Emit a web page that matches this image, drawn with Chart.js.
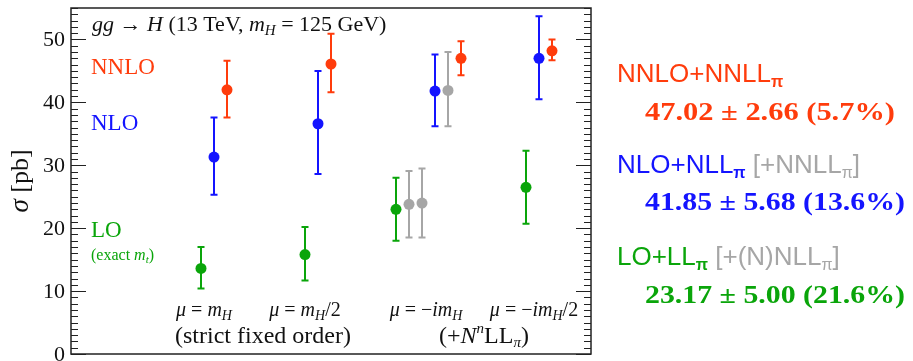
<!DOCTYPE html>
<html>
<head>
<meta charset="utf-8">
<script src="https://cdn.jsdelivr.net/npm/chart.js@4"></script>
<style>
  body { margin: 0; background: #fff; }
  #c { display: block; }
</style>
</head>
<body>
<canvas id="c" width="913" height="361"></canvas>
<script>
// positions along the x axis (one unit = one marker slot)
var loX = [10, 18, 25, 35];
var nloX = [11, 19, 28, 36];
var nnloX = [12, 20, 30, 37];
var grayX = [26, 27, 29];

// cross sections in pb: central value, upper and lower edge of the band
var loVal = [13.6, 15.8, 23.0, 26.5];
var loHi = [17.0, 20.2, 28.0, 32.3];
var loLo = [10.4, 11.7, 18.0, 20.7];

var nloVal = [31.3, 36.6, 41.8, 47.0];
var nloHi = [37.6, 45.0, 47.6, 53.7];
var nloLo = [25.3, 28.6, 36.2, 40.5];

var nnloVal = [42.0, 46.1, 47.0, 48.2];
var nnloHi = [46.6, 50.9, 49.7, 50.0];
var nnloLo = [37.6, 41.6, 44.3, 46.7];

var grayVal = [23.8, 24.0, 41.9];
var grayHi = [29.1, 29.5, 48.0];
var grayLo = [18.5, 18.5, 36.2];

var yTicks = [0, 10, 20, 30, 40, 50];

var RED = "#ff3c0c";
var BLUE = "#1414ff";
var GREEN = "#0aa50a";
var GRAY = "#a6a6a6";

function points(xs, ys) {
    return xs.map(function (x, i) { return {x: x, y: ys[i]}; });
}

function makeSet(xs, ys, hi, lo, color) {
    return {
        data: points(xs, ys),
        hi: hi,
        lo: lo,
        showLine: false,
        backgroundColor: color,
        borderColor: color,
        pointRadius: 5.5,
        pointBorderWidth: 0
    };
}

// draws a row of text pieces: [text, font, color, dy]
function drawRuns(ctx, x, y, parts, align) {
    var total = 0;
    parts.forEach(function (p) { ctx.font = p[1]; total += ctx.measureText(p[0]).width; });
    if (align === "center") x -= total / 2;
    parts.forEach(function (p) {
        ctx.font = p[1];
        ctx.fillStyle = p[2];
        ctx.fillText(p[0], x, y + (p[3] || 0));
        x += ctx.measureText(p[0]).width;
    });
}

function drawFit(ctx, text, x, y, width, font, color) {
    ctx.save();
    ctx.font = font;
    ctx.fillStyle = color;
    var w = ctx.measureText(text).width;
    ctx.translate(x, y);
    ctx.scale(width / w, 1);
    ctx.fillText(text, 0, 0);
    ctx.restore();
}

var errorBars = {
    id: "errorBars",
    beforeDatasetsDraw: function (chart) {
        var ctx = chart.ctx;
        var yScale = chart.scales.y;
        chart.data.datasets.forEach(function (ds, i) {
            var meta = chart.getDatasetMeta(i);
            ctx.save();
            ctx.strokeStyle = ds.borderColor;
            ctx.lineWidth = 2;
            meta.data.forEach(function (pt, j) {
                var yh = yScale.getPixelForValue(ds.hi[j]);
                var yl = yScale.getPixelForValue(ds.lo[j]);
                ctx.beginPath();
                ctx.moveTo(pt.x, yh);
                ctx.lineTo(pt.x, yl);
                ctx.moveTo(pt.x - 3.5, yh);
                ctx.lineTo(pt.x + 3.5, yh);
                ctx.moveTo(pt.x - 3.5, yl);
                ctx.lineTo(pt.x + 3.5, yl);
                ctx.stroke();
            });
            ctx.restore();
        });
    }
};

var decorations = {
    id: "decorations",
    afterDraw: function (chart) {
        var ctx = chart.ctx;
        var a = chart.chartArea;
        var yScale = chart.scales.y;
        var serif = "'Liberation Serif', serif";
        var sans = "'Liberation Sans', Arial, sans-serif";

        // frame
        ctx.save();
        ctx.strokeStyle = "#222";
        ctx.lineWidth = 1.5;
        ctx.strokeRect(a.left, a.top, a.right - a.left, a.bottom - a.top);

        // inward ticks on both sides
        ctx.lineWidth = 1.2;
        for (var v = 0; v <= yScale.max; v++) {
            var py = Math.round(yScale.getPixelForValue(v)) + 0.5;
            var len = v % 10 === 0 ? 15 : 7;
            ctx.beginPath();
            ctx.moveTo(a.left, py);
            ctx.lineTo(a.left + len, py);
            ctx.moveTo(a.right, py);
            ctx.lineTo(a.right - len, py);
            ctx.stroke();
        }

        // tick labels
        ctx.fillStyle = "#111";
        ctx.font = "22px " + serif;
        ctx.textAlign = "right";
        ctx.textBaseline = "middle";
        yTicks.forEach(function (t) {
            ctx.fillText(String(t), a.left - 6, yScale.getPixelForValue(t) + 1);
        });

        // axis title
        ctx.save();
        ctx.translate(28, 181);
        ctx.rotate(-Math.PI / 2);
        ctx.textAlign = "left";
        ctx.textBaseline = "alphabetic";
        drawRuns(ctx, 0, 0, [
            ["σ", "italic 27px " + serif, "#111"],
            [" [pb]", "26px " + serif, "#111"]
        ], "center");
        ctx.restore();

        ctx.textAlign = "left";
        ctx.textBaseline = "alphabetic";
        var it = "italic 22px " + serif;
        var rm = "22px " + serif;
        var sub = "italic 15px " + serif;

        // process title
        drawRuns(ctx, 92, 31, [
            ["gg", it, "#111"], [" → ", rm, "#111"], ["H", it, "#111"],
            [" (13 TeV, ", rm, "#111"], ["m", it, "#111"], ["H", sub, "#111", 4],
            [" = 125 GeV)", rm, "#111"]
        ]);

        // order labels
        ctx.font = "23px " + serif;
        ctx.fillStyle = RED;
        ctx.fillText("NNLO", 91, 74);
        ctx.fillStyle = BLUE;
        ctx.fillText("NLO", 91, 130);
        ctx.fillStyle = GREEN;
        ctx.fillText("LO", 91, 237);
        drawRuns(ctx, 91, 260, [
            ["(exact ", "16px " + serif, GREEN], ["m", "italic 16px " + serif, GREEN],
            ["t", "italic 11px " + serif, GREEN, 3], [")", "16px " + serif, GREEN]
        ]);

        // scale choices
        var mi = "italic 20px " + serif;
        var mr = "20px " + serif;
        var ms = "italic 14px " + serif;
        drawRuns(ctx, 204, 316, [["μ", mi, "#111"], [" = ", mr, "#111"], ["m", mi, "#111"], ["H", ms, "#111", 4]], "center");
        drawRuns(ctx, 305, 316, [["μ", mi, "#111"], [" = ", mr, "#111"], ["m", mi, "#111"], ["H", ms, "#111", 4], ["/2", mr, "#111"]], "center");
        drawRuns(ctx, 426, 316, [["μ", mi, "#111"], [" = −", mr, "#111"], ["im", mi, "#111"], ["H", ms, "#111", 4]], "center");
        drawRuns(ctx, 534, 316, [["μ", mi, "#111"], [" = −", mr, "#111"], ["im", mi, "#111"], ["H", ms, "#111", 4], ["/2", mr, "#111"]], "center");

        drawRuns(ctx, 263, 343, [["(strict fixed order)", "24px " + serif, "#111"]], "center");
        drawRuns(ctx, 484, 343, [
            ["(+", "24px " + serif, "#111"], ["N", "italic 24px " + serif, "#111"],
            ["n", "italic 15px " + serif, "#111", -10], ["LL", "24px " + serif, "#111"],
            ["π", "italic 15px " + serif, "#111", 4], [")", "24px " + serif, "#111"]
        ], "center");

        // results on the right
        var big = "26px " + sans;
        var pi = "bold 16px " + sans;
        drawRuns(ctx, 617, 82, [["NNLO+NNLL", big, RED], ["π", pi, RED, 5]]);
        drawFit(ctx, "47.02 ± 2.66 (5.7%)", 645, 120, 250, "bold 26px " + serif, RED);

        drawRuns(ctx, 617, 173, [
            ["NLO+NLL", big, BLUE], ["π", pi, BLUE, 5],
            [" [+NNLL", big, GRAY], ["π", "16px " + sans, GRAY, 5], ["]", big, GRAY]
        ]);
        drawFit(ctx, "41.85 ± 5.68 (13.6%)", 645, 210, 260, "bold 26px " + serif, BLUE);

        drawRuns(ctx, 617, 265, [
            ["LO+LL", big, GREEN], ["π", pi, GREEN, 5],
            [" [+(N)NLL", big, GRAY], ["π", "16px " + sans, GRAY, 5], ["]", big, GRAY]
        ]);
        drawFit(ctx, "23.17 ± 5.00 (21.6%)", 645, 303, 260, "bold 26px " + serif, GREEN);

        ctx.restore();
    }
};

new Chart(document.getElementById("c"), {
    type: "scatter",
    data: {
        datasets: [
            makeSet(loX, loVal, loHi, loLo, GREEN),
            makeSet(grayX, grayVal, grayHi, grayLo, GRAY),
            makeSet(nloX, nloVal, nloHi, nloLo, BLUE),
            makeSet(nnloX, nnloVal, nnloHi, nnloLo, RED)
        ]
    },
    options: {
        responsive: false,
        animation: false,
        layout: {padding: {left: 71, right: 322, top: 8, bottom: 7}},
        scales: {
            x: {type: "linear", min: 0, max: 40, display: false},
            y: {min: 0, max: 55, display: false}
        },
        plugins: {legend: {display: false}, tooltip: {enabled: false}}
    },
    plugins: [errorBars, decorations]
});
</script>
</body>
</html>
